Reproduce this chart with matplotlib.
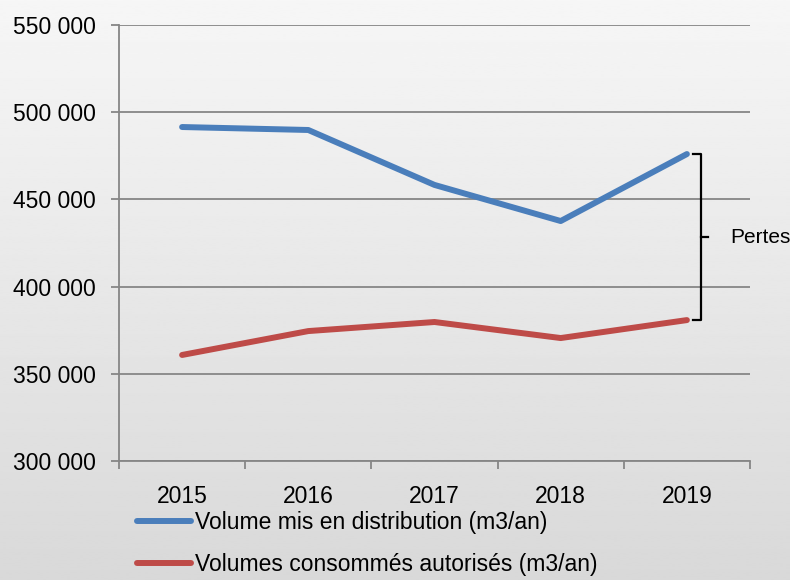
import numpy as np
import matplotlib.pyplot as plt
from matplotlib.ticker import FuncFormatter

plt.rcParams['font.family'] = ['Liberation Sans', 'DejaVu Sans']

years = ['2015', '2016', '2017', '2018', '2019']
volume_distrib = [491500, 489800, 458300, 437600, 476000]
volume_conso = [360800, 374500, 379700, 370500, 380800]
labels = ['Volume mis en distribution (m3/an)', 'Volumes consommés autorisés (m3/an)']

W, H = 790, 580
fig = plt.figure(figsize=(W / 100, H / 100), dpi=100)

# gradient background
bg = fig.add_axes([0, 0, 1, 1], zorder=-10)
grad = np.linspace(0.965, 0.85, 256).reshape(-1, 1)
bg.imshow(grad, aspect='auto', cmap='gray', vmin=0, vmax=1, extent=[0, 1, 0, 1])
bg.axis('off')

ax = fig.add_axes([119 / W, 1 - 461 / H, (750 - 119) / W, (461 - 25) / H])
ax.patch.set_alpha(0)

x = np.arange(len(years))
l1, = ax.plot(x, volume_distrib, color='#4a7ebb', lw=4.3, solid_capstyle='round', zorder=3)
l2, = ax.plot(x, volume_conso, color='#be4b48', lw=4.3, solid_capstyle='round', zorder=3)

ax.set_xlim(-0.5, len(years) - 0.5)
ax.set_ylim(300000, 550000)
ax.set_yticks(np.arange(300000, 550001, 50000))
ax.yaxis.set_major_formatter(FuncFormatter(lambda v, p: f'{int(v):,}'.replace(',', ' ')))
ax.set_xticks(x)
ax.set_xticklabels(years)
ax.set_xticks(np.arange(-0.5, len(years)), minor=True)

gc = '#868686'
ax.grid(axis='y', color=gc, lw=1.3)
for s in ['top', 'right']:
    ax.spines[s].set_visible(False)
for s in ['left', 'bottom']:
    ax.spines[s].set_color(gc)
    ax.spines[s].set_linewidth(1.3)
ax.tick_params(axis='y', length=6, width=1.3, color=gc, labelsize=16.5, pad=11)
ax.tick_params(axis='x', which='major', length=0, labelsize=16.5, pad=17)
ax.tick_params(axis='x', which='minor', length=6, width=1.3, color=gc)

# bracket "Pertes"
ytop, ybot = volume_distrib[-1], volume_conso[-1]
ymid = (ytop + ybot) / 2
bx0, bx1, bx2 = 4.05, 4.11, 4.17
ax.plot([bx0, bx1, bx1, bx0], [ytop, ytop, ybot, ybot], color='black', lw=1.6, clip_on=False)
ax.plot([bx1, bx2], [ymid, ymid], color='black', lw=1.6, clip_on=False)
ax.text(4.34, ymid, 'Pertes', fontsize=15, va='center', ha='left')

fig.legend([l1, l2], labels, loc='upper left', bbox_to_anchor=(137 / W, 1 - 511 / H),
           frameon=False, fontsize=16.5, handlelength=2.35, handletextpad=0.2,
           labelspacing=0.85, borderpad=0, borderaxespad=0)

fig.savefig('out.png', dpi=100)
